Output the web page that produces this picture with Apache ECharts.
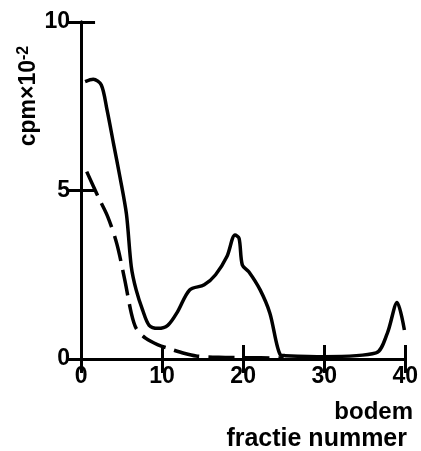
<!DOCTYPE html>
<html>
<head>
<meta charset="utf-8">
<script src="https://cdn.jsdelivr.net/npm/echarts@6/dist/echarts.min.js"></script>
<style>
  html, body { margin: 0; padding: 0; background: #fff; }
  #chart { width: 421px; height: 451px; }
</style>
</head>
<body>
<div id="chart"></div>
<script>
// fractie nummer vs cpm x 10^-2
const solidX = [0.5, 1.5, 2.5, 3.2, 4.0, 4.8, 5.6, 6.2, 6.8, 7.6, 8.4, 9.5, 10.7, 11.9, 13.4, 15.2, 16.6, 18.0, 19.0, 19.5, 19.9, 20.7, 22.1, 23.3, 24.6, 25.2, 30.0, 36.4, 37.8, 39.0, 39.9]
const solidY = [8.23, 8.3, 8.13, 7.4, 6.4, 5.4, 4.3, 2.74, 2.05, 1.45, 1.0, 0.91, 1.0, 1.4, 2.05, 2.2, 2.5, 3.04, 3.68, 3.58, 2.79, 2.59, 2.05, 1.36, 0.12, 0.1, 0.07, 0.18, 0.77, 1.68, 0.86]
const dashX = [0.7, 2.1, 3.3, 4.4, 5.4, 6.2, 6.8, 8.0, 9.5, 11.1, 12.7, 14.2, 17.0, 20.0, 25.0]
const dashY = [5.56, 4.82, 4.22, 3.43, 2.34, 1.36, 0.91, 0.61, 0.42, 0.29, 0.17, 0.09, 0.05, 0.04, 0.03]
const xTicks = [0, 10, 20, 30, 40]
const yTicks = [0, 5, 10]

const font = 'Liberation Sans'
const chart = echarts.init(document.getElementById('chart'))

const axisBase = {
  type: 'value',
  axisLine: { show: true, lineStyle: { color: '#000', width: 3 } },
  axisTick: { show: true, inside: true, length: 14, lineStyle: { color: '#000', width: 3 } },
  splitLine: { show: false }
}

// x axis starts a little left of 0, as in the original frame
const xAxisBase = {
  ...axisBase,
  min: -0.5,
  max: 40,
  axisTick: { ...axisBase.axisTick, customValues: xTicks }
}

chart.setOption({
  animation: false,
  grid: { left: 77, right: 2, top: 22, bottom: 92 },
  xAxis: [{
    ...xAxisBase,
    position: 'bottom',
    axisLabel: { color: '#000', fontFamily: font, fontWeight: 'bold', fontSize: 23, margin: 6, customValues: xTicks }
  }, {
    ...xAxisBase,
    position: 'top',
    axisLabel: { show: false }
  }],
  yAxis: [{
    ...axisBase,
    position: 'left',
    min: yTicks[0],
    max: yTicks[yTicks.length - 1],
    interval: 5,
    axisLabel: { color: '#000', fontFamily: font, fontWeight: 'bold', fontSize: 23, margin: 7 }
  }, {
    ...axisBase,
    position: 'right',
    min: yTicks[0],
    max: yTicks[yTicks.length - 1],
    interval: 5,
    axisLabel: { show: false }
  }],
  series: [{
    type: 'line',
    data: solidX.map((x, i) => [x, solidY[i]]),
    smooth: 0.3,
    showSymbol: false,
    lineStyle: { color: '#000', width: 3.5 }
  }, {
    type: 'line',
    data: dashX.map((x, i) => [x, dashY[i]]),
    smooth: 0.3,
    showSymbol: false,
    lineStyle: { color: '#000', width: 3.5, type: [26, 9] }
  }],
  graphic: [{
    type: 'text',
    x: 29,
    y: 96,
    rotation: Math.PI / 2,
    style: {
      text: '{b|cpm×10}{s|-2}',
      align: 'center',
      verticalAlign: 'middle',
      rich: {
        b: { fontFamily: font, fontWeight: 'bold', fontSize: 23, fill: '#000' },
        s: { fontFamily: font, fontWeight: 'bold', fontSize: 16, fill: '#000', verticalAlign: 'top', padding: [0, 0, 10, 0] }
      }
    }
  }, {
    type: 'text',
    right: 8,
    top: 400,
    style: { text: 'bodem', fontFamily: font, fontWeight: 'bold', fontSize: 24, fill: '#000' }
  }, {
    type: 'text',
    right: 14,
    top: 427,
    style: { text: 'fractie nummer', fontFamily: font, fontWeight: 'bold', fontSize: 25, fill: '#000' }
  }]
})
</script>
</body>
</html>
